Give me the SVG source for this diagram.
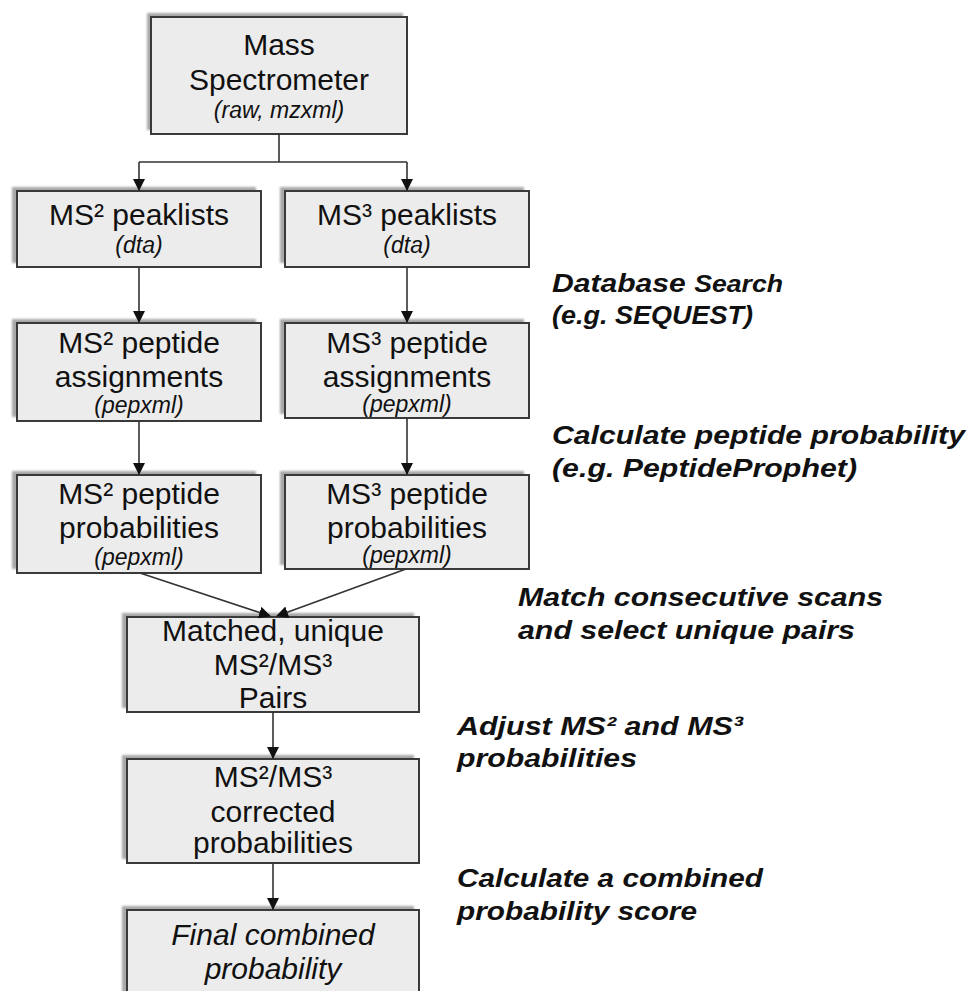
<svg xmlns="http://www.w3.org/2000/svg" width="971" height="991" viewBox="0 0 971 991">
<style>
.box{fill:#ececec;stroke:#3a3a3a;stroke-width:2}
.sh{fill:#a8a8a8;filter:url(#blur)}
.t{font-family:"Liberation Sans",Arial,sans-serif;font-size:30px;fill:#111;text-anchor:middle}
.s{font-family:"Liberation Sans",Arial,sans-serif;font-size:23px;font-style:italic;fill:#111;text-anchor:middle}
.lab{font-family:"Liberation Sans",Arial,sans-serif;font-size:26px;font-weight:bold;font-style:italic;fill:#111}
.c{fill:none;stroke:#333;stroke-width:1.6}
</style>
<defs>
<filter id="blur" x="-10%" y="-10%" width="120%" height="120%"><feGaussianBlur stdDeviation="1"/></filter>
<marker id="ah" markerUnits="userSpaceOnUse" markerWidth="12" markerHeight="14" refX="11" refY="6" orient="auto"><path d="M0,0 L12,6 L0,12 Z" fill="#111"/></marker>
</defs>
<rect width="971" height="991" fill="#fff"/>

<g id="n-ms">
<rect class="sh" x="147" y="13" width="256" height="117"/>
<rect class="box" x="151" y="17" width="256" height="117"/>
<text class="t" x="279" y="55">Mass</text>
<text class="t" x="279" y="90">Spectrometer</text>
<text class="s" x="279" y="118">(raw, mzxml)</text>
</g>

<g id="n-ms2-peak">
<rect class="sh" x="12" y="187" width="244" height="76"/>
<rect class="box" x="17" y="191" width="244" height="76"/>
<text class="t" x="139" y="225">MS² peaklists</text>
<text class="s" x="139" y="253">(dta)</text>
</g>
<g id="n-ms3-peak">
<rect class="sh" x="280" y="187" width="244" height="76"/>
<rect class="box" x="285" y="191" width="244" height="76"/>
<text class="t" x="407" y="225">MS³ peaklists</text>
<text class="s" x="407" y="253">(dta)</text>
</g>

<g id="n-ms2-assign">
<rect class="sh" x="12" y="319" width="244" height="98"/>
<rect class="box" x="17" y="323" width="244" height="98"/>
<text class="t" x="139" y="353">MS² peptide</text>
<text class="t" x="139" y="387">assignments</text>
<text class="s" x="139" y="413">(pepxml)</text>
</g>
<g id="n-ms3-assign">
<rect class="sh" x="280" y="319" width="244" height="95"/>
<rect class="box" x="285" y="323" width="244" height="95"/>
<text class="t" x="407" y="353">MS³ peptide</text>
<text class="t" x="407" y="387">assignments</text>
<text class="s" x="407" y="412">(pepxml)</text>
</g>

<g id="n-ms2-prob">
<rect class="sh" x="12" y="471" width="244" height="98"/>
<rect class="box" x="17" y="475" width="244" height="98"/>
<text class="t" x="139" y="504">MS² peptide</text>
<text class="t" x="139" y="538">probabilities</text>
<text class="s" x="139" y="565">(pepxml)</text>
</g>
<g id="n-ms3-prob">
<rect class="sh" x="280" y="471" width="244" height="94"/>
<rect class="box" x="285" y="475" width="244" height="94"/>
<text class="t" x="407" y="504">MS³ peptide</text>
<text class="t" x="407" y="538">probabilities</text>
<text class="s" x="407" y="563">(pepxml)</text>
</g>

<g id="n-matched">
<rect class="sh" x="122" y="613" width="292" height="95"/>
<rect class="box" x="127" y="617" width="292" height="95"/>
<text class="t" x="273" y="641">Matched, unique</text>
<text class="t" x="273" y="675">MS²/MS³</text>
<text class="t" x="273" y="708">Pairs</text>
</g>

<g id="n-corrected">
<rect class="sh" x="122" y="755" width="292" height="104"/>
<rect class="box" x="127" y="759" width="292" height="104"/>
<text class="t" x="273" y="787">MS²/MS³</text>
<text class="t" x="273" y="822">corrected</text>
<text class="t" x="273" y="853">probabilities</text>
</g>

<g id="n-final">
<rect class="sh" x="122" y="906" width="292" height="100"/>
<rect class="box" x="127" y="910" width="292" height="100"/>
<text class="t" x="273" y="945" font-style="italic">Final combined</text>
<text class="t" x="273" y="979" font-style="italic">probability</text>
</g>

<g id="connectors">
<path class="c" d="M279,134 V162 M139,162 H407"/>
<path class="c" d="M139,162 V190" marker-end="url(#ah)"/>
<path class="c" d="M407,162 V190" marker-end="url(#ah)"/>
<path class="c" d="M139,267 V322" marker-end="url(#ah)"/>
<path class="c" d="M407,267 V322" marker-end="url(#ah)"/>
<path class="c" d="M139,421 V474" marker-end="url(#ah)"/>
<path class="c" d="M407,418 V474" marker-end="url(#ah)"/>
<path class="c" d="M140,573 L270,616" marker-end="url(#ah)"/>
<path class="c" d="M406,569 L277,616" marker-end="url(#ah)"/>
<path class="c" d="M273,712 V758" marker-end="url(#ah)"/>
<path class="c" d="M273,863 V909" marker-end="url(#ah)"/>
</g>

<g id="labels">
<text class="lab" x="552" y="292" textLength="231" lengthAdjust="spacingAndGlyphs">Database <tspan font-size="23">Search</tspan></text>
<text class="lab" x="552" y="324" textLength="201" lengthAdjust="spacingAndGlyphs">(e.g. SEQUEST)</text>
<text class="lab" x="552" y="444" textLength="413" lengthAdjust="spacingAndGlyphs">Calculate peptide probability</text>
<text class="lab" x="552" y="477" textLength="305" lengthAdjust="spacingAndGlyphs">(e.g. PeptideProphet)</text>
<text class="lab" x="518" y="606" textLength="365" lengthAdjust="spacingAndGlyphs">Match consecutive scans</text>
<text class="lab" x="518" y="639" textLength="337" lengthAdjust="spacingAndGlyphs">and select unique pairs</text>
<text class="lab" x="457" y="735" textLength="286" lengthAdjust="spacingAndGlyphs">Adjust MS² and MS³</text>
<text class="lab" x="457" y="767" textLength="180" lengthAdjust="spacingAndGlyphs">probabilities</text>
<text class="lab" x="457" y="887" textLength="306" lengthAdjust="spacingAndGlyphs">Calculate a combined</text>
<text class="lab" x="457" y="920" textLength="240" lengthAdjust="spacingAndGlyphs">probability score</text>
</g>
</svg>
